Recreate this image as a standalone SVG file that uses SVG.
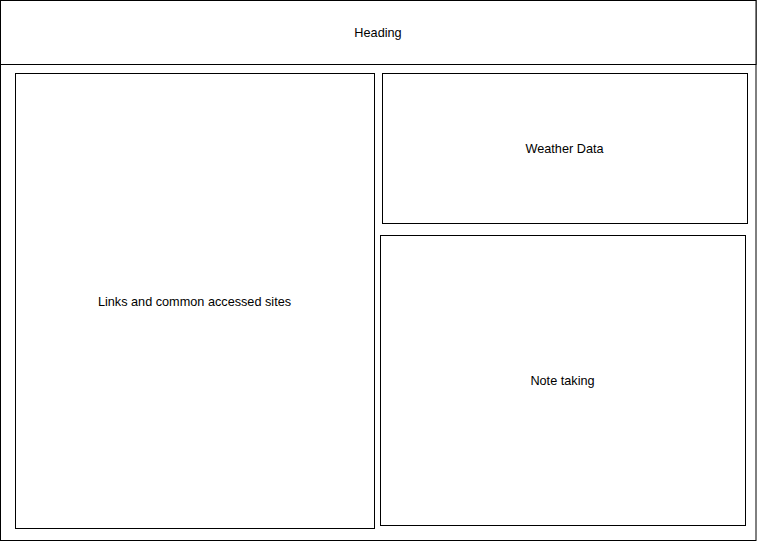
<svg xmlns="http://www.w3.org/2000/svg" width="757" height="541" viewBox="0 0 757 541">
<style>
rect{fill:#fff;stroke:#000;stroke-width:1}
text{font-family:"Liberation Sans",Arial,sans-serif;font-size:12.7px;fill:#000;text-anchor:middle;dominant-baseline:central}
</style>
<rect x="0" y="0" width="757" height="541" style="stroke:none"/>
<g id="outer"><rect x="0.5" y="0.5" width="755.5" height="540"/></g>
<g id="heading"><rect x="0.5" y="0.5" width="755.5" height="64"/><text x="378" y="33">Heading</text></g>
<g id="links"><rect x="15.5" y="73.5" width="359" height="455"/><text x="194.5" y="302">Links and common accessed sites</text></g>
<g id="weather"><rect x="382.5" y="73.5" width="365" height="150"/><text x="564.5" y="149">Weather Data</text></g>
<g id="notes"><rect x="380.5" y="235.5" width="365" height="290"/><text x="562.5" y="381">Note taking</text></g>
<g id="connectors"></g>
</svg>
